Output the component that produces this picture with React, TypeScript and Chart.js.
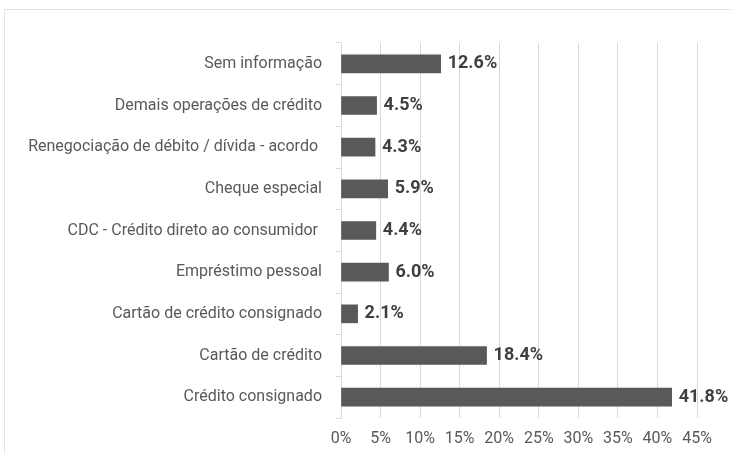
import React, { useEffect, useRef } from "react";
import { Chart, registerables } from "chart.js";

Chart.register(...registerables);

const categories = [
  "Sem informação",
  "Demais operações de crédito",
  "Renegociação de débito / dívida - acordo ",
  "Cheque especial",
  "CDC - Crédito direto ao consumidor ",
  "Empréstimo pessoal",
  "Cartão de crédito consignado",
  "Cartão de crédito",
  "Crédito consignado",
];
const values = [12.6, 4.5, 4.3, 5.9, 4.4, 6.0, 2.1, 18.4, 41.8];
const xTicks = [0, 5, 10, 15, 20, 25, 30, 35, 40, 45];

const FONT = "Roboto, 'Noto Sans', sans-serif";

const valueLabels = {
  id: "valueLabels",
  afterDatasetsDraw(chart: any) {
    const ctx = chart.ctx;
    const meta = chart.getDatasetMeta(0);
    ctx.save();
    ctx.font = `bold 18px Roboto, 'Liberation Sans', sans-serif`;
    ctx.fillStyle = "#404040";
    ctx.textAlign = "left";
    ctx.textBaseline = "middle";
    meta.data.forEach((bar: any, i: number) => {
      ctx.fillText(values[i].toFixed(1) + "%", bar.x + 7, bar.y);
    });
    ctx.restore();
  },
};

export default function App() {
  const ref = useRef<HTMLCanvasElement>(null);
  useEffect(() => {
    if (!ref.current) return;
    const chart = new Chart(ref.current, {
      type: "bar",
      data: {
        labels: categories,
        datasets: [
          {
            data: values,
            backgroundColor: "#595959",
            barThickness: 18,
          },
        ],
      },
      options: {
        indexAxis: "y",
        responsive: false,
        animation: false,
        layout: { padding: { top: 43, right: 34, bottom: 0, left: 0 } },
        plugins: { legend: { display: false }, tooltip: { enabled: false } },
        scales: {
          x: {
            min: 0,
            max: 45,
            afterBuildTicks(scale: any) {
              scale.ticks = xTicks.map((v) => ({ value: v }));
            },
            afterFit(scale: any) {
              scale.height = 36;
            },
            grid: { color: "#d9d9d9", drawTicks: false },
            border: { display: false },
            ticks: {
              padding: 11,
              color: "#595959",
              font: { family: FONT, size: 16 },
              callback: (v: any) => v + "%",
            },
          },
          y: {
            afterFit(scale: any) {
              scale.width = 341;
            },
            grid: {
              drawOnChartArea: false,
              offset: true,
              tickLength: 5,
              color: "#d9d9d9",
            },
            border: { display: true, color: "#d9d9d9" },
            ticks: {
              padding: 14,
              color: "#595959",
              font: { family: FONT, size: 16 },
            },
          },
        },
      },
      plugins: [valueLabels],
    });
    return () => chart.destroy();
  }, []);
  return (
    <div
      style={{
        position: "fixed",
        left: 0,
        top: 0,
        width: 731,
        height: 454,
        background: "#fff",
      }}
    >
      <div
        style={{
          position: "absolute",
          left: 4,
          top: 9,
          width: 740,
          height: 460,
          border: "1px solid #e3e3e3",
        }}
      />
      <canvas
        ref={ref}
        width={731}
        height={454}
        style={{ position: "absolute", left: 0, top: 0 }}
      />
    </div>
  );
}
